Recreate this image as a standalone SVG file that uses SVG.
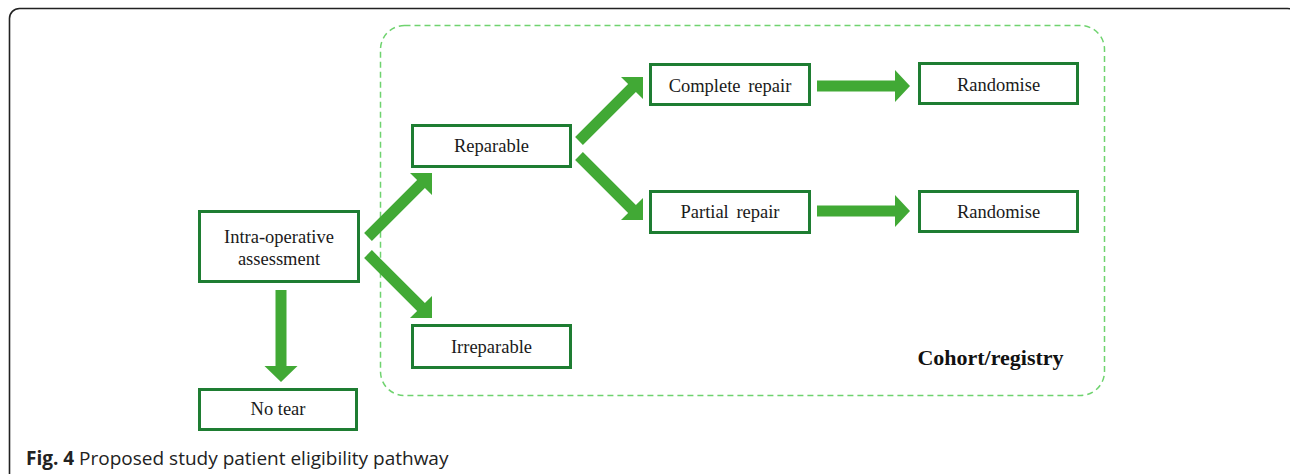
<svg xmlns="http://www.w3.org/2000/svg" width="1290" height="474" viewBox="0 0 1290 474">
<style>
.box{fill:#fff;stroke:#1e7d32;stroke-width:3}
.lbl{font-family:"Liberation Serif","Times New Roman",serif;font-size:18.5px;fill:#1a1a1a;text-anchor:middle}
.arr{fill:#41a935}
</style>
<rect x="0" y="0" width="1290" height="474" fill="#fff"/>
<rect x="9.5" y="8.5" width="1288" height="480" rx="10" fill="none" stroke="#222" stroke-width="1.6"/>
<g id="cohort">
<rect x="380.5" y="25.5" width="724" height="370" rx="24" fill="none" stroke="#6fd36f" stroke-width="1.5" stroke-dasharray="6 4"/>
<text x="990.5" y="365" font-family="Liberation Serif,serif" font-weight="bold" font-size="22" fill="#111" text-anchor="middle">Cohort/registry</text>
</g>
<g id="connectors">
<polygon class="arr" points="364.1,233.1 417.1,180.1 410,173 432,173 432,195 424.9,187.9 371.9,240.9"/>
<polygon class="arr" points="371.9,250.1 424.9,303.1 432,296 432,318 410,318 417.1,310.9 364.1,257.9"/>
<polygon class="arr" points="575.1,137.1 628.1,84.1 621,77 643,77 643,99 635.9,91.9 582.9,144.9"/>
<polygon class="arr" points="582.9,152.1 635.9,205.1 643,198 643,220 621,220 628.1,212.9 575.1,159.9"/>
<polygon class="arr" points="817,80.5 895,80.5 895,70 910,86 895,102 895,91.5 817,91.5"/>
<polygon class="arr" points="817,205.5 895,205.5 895,195 910,211 895,227 895,216.5 817,216.5"/>
<polygon class="arr" points="275.5,290 286.5,290 286.5,366 297.5,366 281,382 264.5,366 275.5,366"/>
</g>
<g id="intra">
<rect class="box" x="199.5" y="211.5" width="159" height="70"/>
<text class="lbl" x="279" y="243">Intra-operative</text>
<text class="lbl" x="279" y="265">assessment</text>
</g>
<g id="notear">
<rect class="box" x="199.5" y="389.5" width="157" height="40"/>
<text class="lbl" x="278" y="415">No tear</text>
</g>
<g id="reparable">
<rect class="box" x="412.5" y="125.5" width="158" height="41"/>
<text class="lbl" x="491.5" y="152">Reparable</text>
</g>
<g id="irreparable">
<rect class="box" x="412.5" y="325.5" width="158" height="42"/>
<text class="lbl" x="491.5" y="353">Irreparable</text>
</g>
<g id="complete">
<rect class="box" x="650.5" y="64.5" width="159" height="40"/>
<text class="lbl" x="730" y="92" word-spacing="3">Complete repair</text>
</g>
<g id="partial">
<rect class="box" x="650.5" y="191.5" width="159" height="41"/>
<text class="lbl" x="730" y="218" word-spacing="3">Partial repair</text>
</g>
<g id="randomise1">
<rect class="box" x="919.5" y="63.5" width="158" height="40"/>
<text class="lbl" x="998.5" y="91">Randomise</text>
</g>
<g id="randomise2">
<rect class="box" x="919.5" y="191.5" width="158" height="40"/>
<text class="lbl" x="998.5" y="218">Randomise</text>
</g>
<text x="26" y="465" font-family="Open Sans,sans-serif" font-size="19" fill="#222"><tspan font-weight="bold">Fig. 4</tspan> Proposed study patient eligibility pathway</text>
</svg>
